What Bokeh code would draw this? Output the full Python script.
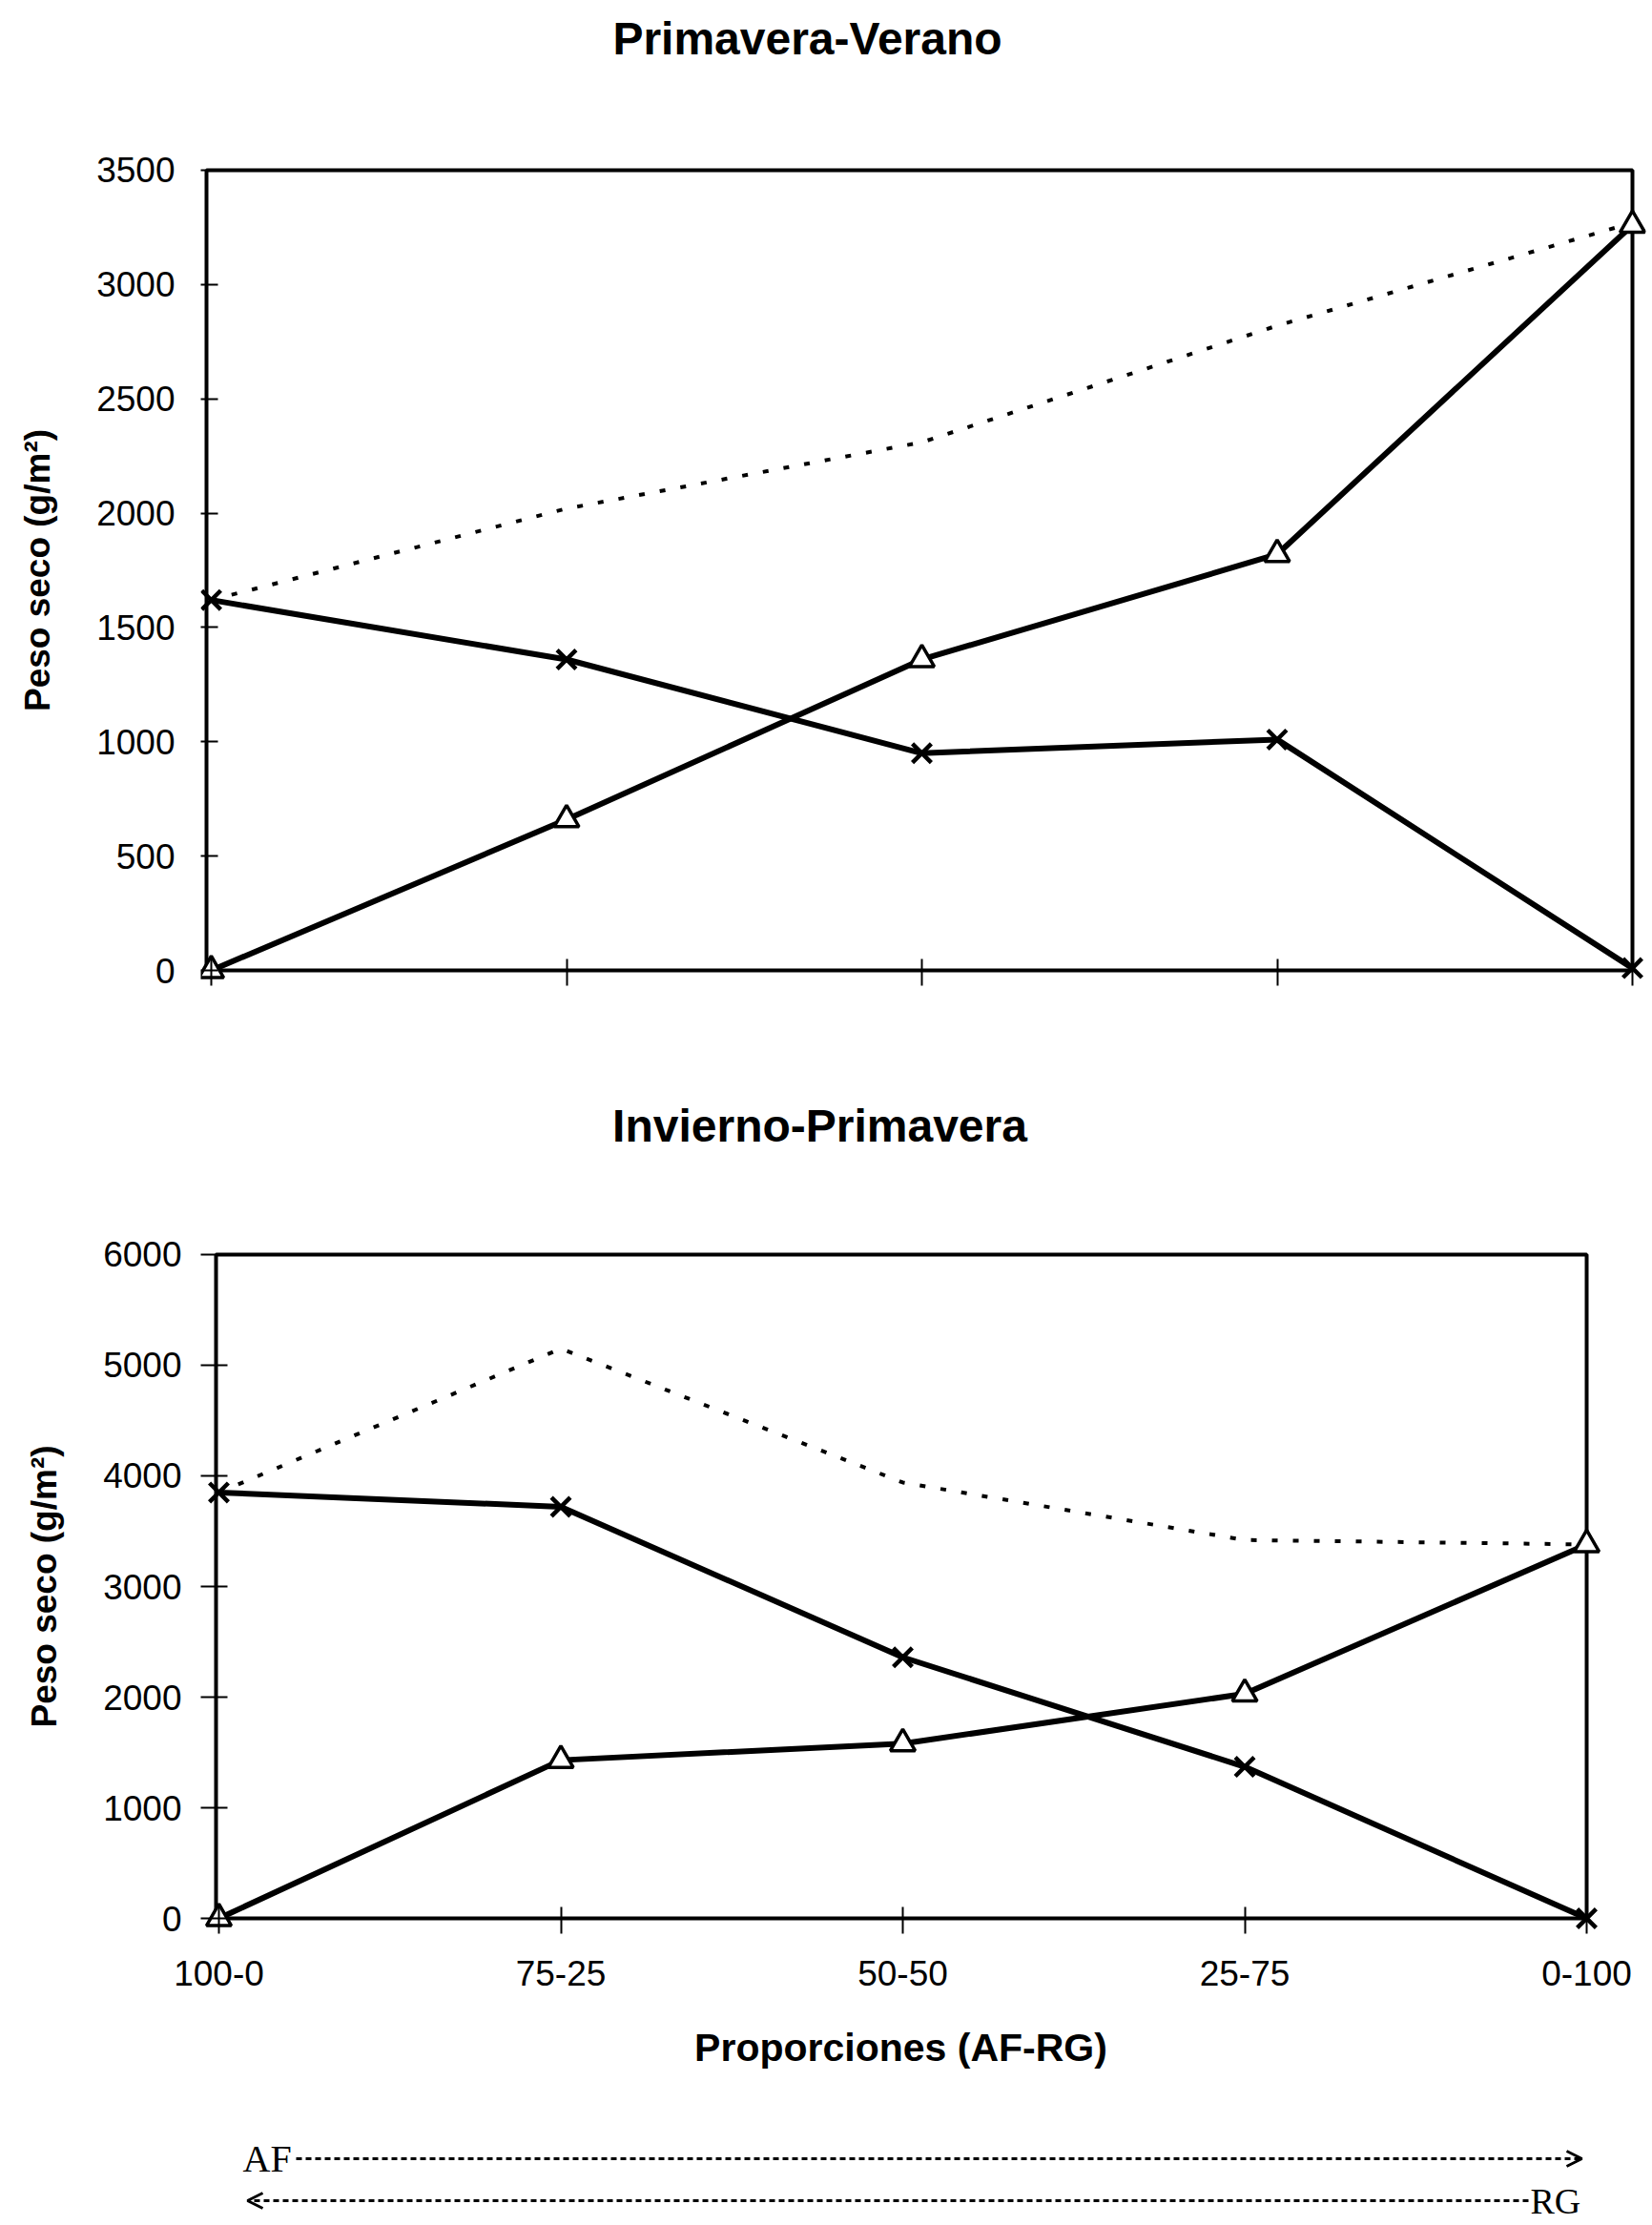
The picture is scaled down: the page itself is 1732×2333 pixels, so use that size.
from bokeh.plotting import figure
from bokeh.models import Range1d, FixedTicker, Label, Arrow, OpenHead
from bokeh.layouts import column
from bokeh.core.properties import value
from bokeh.embed import file_html
from bokeh.resources import INLINE

# ---- data ----
categories = ["100-0", "75-25", "50-50", "25-75", "0-100"]
x_pos = [0, 1, 2, 3, 4]

pv_af = [1620, 1360, 950, 1010, 10]        # Primavera-Verano, x markers
pv_rg = [0, 660, 1360, 1820, 3260]         # triangles
pv_total = [1620, 2020, 2310, 2820, 3270]  # dotted

ip_af = [3850, 3720, 2360, 1370, 0]        # Invierno-Primavera, x markers
ip_rg = [0, 1430, 1580, 2030, 3380]        # triangles
ip_total = [3850, 5150, 3940, 3420, 3380]  # dotted

pv_yticks = [0, 500, 1000, 1500, 2000, 2500, 3000, 3500]
ip_yticks = [0, 1000, 2000, 3000, 4000, 5000, 6000]

titles = ["Primavera-Verano", "Invierno-Primavera"]
y_title = "Peso seco (g/m²)"
x_title = "Proporciones (AF-RG)"

FONT = "Liberation Sans"
W = 1732
BL, BR = 210, 7          # common frame borders (left / right)


def text_fig(height):
    f = figure(width=W, height=height, output_backend="svg", toolbar_location=None,
               x_range=Range1d(BL, W - BR), y_range=Range1d(height, 0),
               min_border_left=BL, min_border_right=BR, min_border_top=0,
               min_border_bottom=0, x_axis_location=None, y_axis_location=None)
    f.grid.visible = False
    f.outline_line_color = None
    return f


def chart(height, xr, yr, top, bottom, box_x0, ymax, yticks, show_xlabels,
          ytick_in, xtick_in):
    p = figure(width=W, height=height, output_backend="svg", toolbar_location=None,
               x_range=Range1d(*xr), y_range=Range1d(*yr),
               min_border_left=BL, min_border_right=BR, min_border_top=top,
               min_border_bottom=bottom)
    p.grid.visible = False
    p.outline_line_color = None
    # plot-area box
    p.quad(left=[box_x0], right=[x_pos[-1]], bottom=[0], top=[ymax],
           fill_color=None, line_color="black", line_width=4)
    xa, ya = p.xaxis[0], p.yaxis[0]
    xa.bounds = (box_x0, x_pos[-1])
    ya.bounds = (0, ymax)
    for ax in (xa, ya):
        ax.axis_line_color = None
        ax.major_tick_line_width = 2
        ax.major_tick_line_color = "black"
        ax.major_tick_out = 0
        ax.minor_tick_line_color = None
        ax.major_label_text_font = FONT
        ax.major_label_text_font_size = "37px"
        ax.major_label_text_color = "black"
    ya.major_tick_in = ytick_in
    xa.major_tick_in = xtick_in
    ya.ticker = FixedTicker(ticks=yticks)
    xa.ticker = FixedTicker(ticks=x_pos)
    if show_xlabels:
        xa.major_label_overrides = {i: c for i, c in zip(x_pos, categories)}
    else:
        xa.major_label_overrides = {i: "" for i in x_pos}
    ya.axis_label = y_title
    ya.axis_label_text_font = FONT
    ya.axis_label_text_font_style = "bold"
    ya.axis_label_text_font_size = "37px"
    ya.axis_label_text_color = "black"
    ya.axis_label_standoff = 38
    ya.major_label_orientation = "horizontal"
    return p


def draw(p, af, rg, tot):
    p.line(x_pos, tot, line_color="black", line_width=4, line_dash="6 16")
    p.line(x_pos, rg, line_color="black", line_width=6, line_join="round")
    p.line(x_pos, af, line_color="black", line_width=6, line_join="round")
    p.scatter(x_pos, rg, marker="triangle", size=26, fill_color="white",
              line_color="black", line_width=3.5)
    p.scatter(x_pos, af, marker="x", size=28, line_color="black", line_width=4.5)


def add_text(f, x, y, txt, size):
    f.text(x=[x], y=[y], text=[txt], text_align="center", text_baseline="middle",
           text_font=value(FONT), text_font_style="bold", text_font_size=size,
           text_color="black")


# ---- title 1 ----
t1 = text_fig(110)
add_text(t1, 846, 40, titles[0], "48px")

# ---- top chart ----
p1 = chart(986, (-0.02953, 4.03758), (-66.7, 3566.7), 52, 63, -0.01342, 3500,
           pv_yticks, False, 18, 28)
p1.yaxis.major_label_standoff = 27
draw(p1, pv_af, pv_rg, pv_total)

# ---- title 2 ----
t2 = text_fig(144)
add_text(t2, 859, 84, titles[1], "48px")

# ---- bottom chart ----
p2 = chart(860, (-0.0530, 4.1729), (-137.9, 6137.9), 59, 73, -0.00837, 6000,
           ip_yticks, True, 28, 28)
p2.yaxis.major_label_standoff = 20
p2.xaxis.major_label_standoff = 28
draw(p2, ip_af, ip_rg, ip_total)

# ---- x axis title (centred on the plot box) ----
t3 = text_fig(93)
add_text(t3, 944, 46, x_title, "41px")

# ---- direction arrows ----
p3 = text_fig(136)
p3.add_layout(Label(x=254, y=70, text="AF", text_baseline="middle",
                    text_font="Liberation Serif", text_font_size="40px", text_color="black"))
p3.add_layout(Arrow(end=OpenHead(size=16, line_width=3, line_color="black"),
                    x_start=310, y_start=70, x_end=1658, y_end=70,
                    line_color="black", line_width=3, line_dash="6 4"))
p3.add_layout(Arrow(end=OpenHead(size=16, line_width=3, line_color="black"),
                    x_start=1602, y_start=114, x_end=259, y_end=114,
                    line_color="black", line_width=3, line_dash="6 4"))
p3.add_layout(Label(x=1604, y=114, text="RG", text_baseline="middle",
                    text_font="Liberation Serif", text_font_size="38px", text_color="black"))

layout = column(t1, p1, t2, p2, t3, p3, spacing=0)
open("out.html", "w").write(file_html(layout, INLINE))
